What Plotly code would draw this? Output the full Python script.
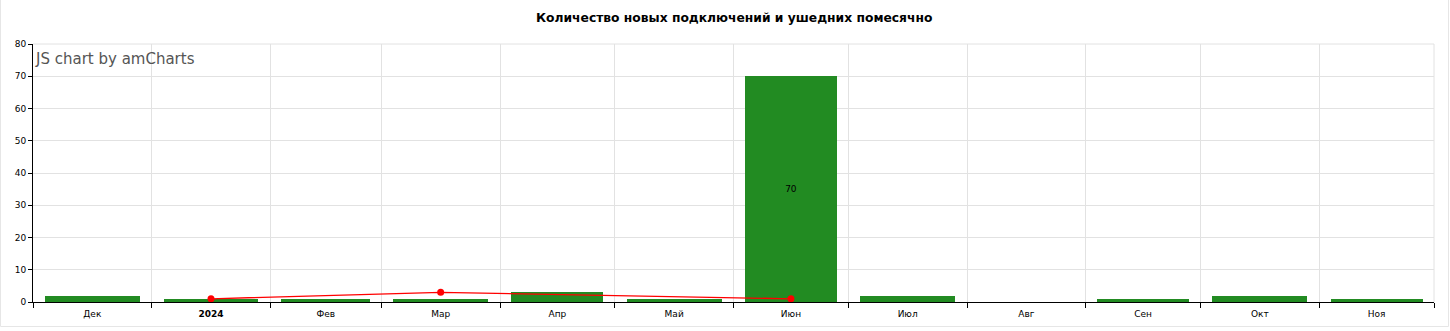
import pandas as pd
import plotly.graph_objects as go

# ---- data ----
months = ["2023-12", "2024-01", "2024-02", "2024-03", "2024-04", "2024-05",
          "2024-06", "2024-07", "2024-08", "2024-09", "2024-10", "2024-11"]
month_labels = ["Дек", "<b>2024</b>", "Фев", "Мар", "Апр", "Май",
                "Июн", "Июл", "Авг", "Сен", "Окт", "Ноя"]
new_connections = [2, 1, 1, 1, 3, 1, 70, 2, 0, 1, 2, 1]
churned = [None, 1, None, 3, None, None, 1, None, None, None, None, None]
title_text = "Количество новых подключений и ушедних помесячно"
y_ticks = [0, 10, 20, 30, 40, 50, 60, 70, 80]

# ---- derived positions from the month periods ----
starts = [pd.Timestamp(m + "-01") for m in months]
ends = [s + pd.offsets.MonthBegin(1) for s in starts]
centers = [s + (e - s) / 2 for s, e in zip(starts, ends)]
widths = [0.8 * (e - s).total_seconds() * 1000 for s, e in zip(starts, ends)]
boundaries = starts + [ends[-1]]
x_range = [starts[0], ends[-1]]

W, H = 1450, 331
ML, MR, MT, MB = 33, 16, 44, 29
PW, PH = W - ML - MR, H - MT - MB

def px_x(p):
    return (p - ML) / PW

def px_y(p):
    return (H - MB - p) / PH

FONT = "DejaVu Sans, Verdana, sans-serif"

fig = go.Figure()
fig.add_trace(go.Bar(
    x=centers, y=new_connections, width=widths,
    marker=dict(color="#228B22", line=dict(width=0)),
    text=[str(v) if v >= 10 else "" for v in new_connections],
    textposition="inside", insidetextanchor="middle", textangle=0,
    textfont=dict(size=9, color="#000000", family=FONT),
    name="Новые", showlegend=False, hoverinfo="x+y",
))
fig.add_trace(go.Scatter(
    x=centers, y=churned, mode="lines+markers", connectgaps=True,
    line=dict(color="#FF0000", width=1.3),
    marker=dict(color="#FF0000", size=7),
    name="Ушедшие", showlegend=False,
))
# invisible trace to carry the label axis
fig.add_trace(go.Scatter(x=centers, y=[None] * len(centers), xaxis="x2",
                         showlegend=False, hoverinfo="skip"))

fig.update_layout(
    width=W, height=H,
    margin=dict(l=ML, r=MR, t=MT, b=MB, pad=0),
    paper_bgcolor="#ffffff", plot_bgcolor="#ffffff",
    font=dict(family=FONT, size=9, color="#000000"),
    bargap=0,
    xaxis=dict(
        type="date", range=x_range, tickvals=boundaries, showticklabels=False,
        ticks="outside", ticklen=5, tickcolor="#000000",
        showgrid=True, gridcolor="#e2e2e2", gridwidth=1,
        showline=True, linecolor="#000000", linewidth=1,
        zeroline=False, fixedrange=True,
    ),
    xaxis2=dict(
        type="date", range=x_range, overlaying="x", anchor="y", side="bottom",
        tickvals=centers, ticktext=month_labels, ticks="", ticklen=0,
        ticklabelstandoff=5,
        showgrid=False, showline=False, zeroline=False,
        tickfont=dict(size=9, family=FONT, color="#000000"), fixedrange=True,
    ),
    yaxis=dict(
        range=[0, 80], tickvals=y_ticks, ticks="outside", ticklen=4,
        tickcolor="#000000", showline=True, linecolor="#000000", linewidth=1,
        showgrid=True, gridcolor="#e2e2e2", gridwidth=1, zeroline=False,
        tickfont=dict(size=9, family=FONT, color="#000000"), fixedrange=True,
    ),
    annotations=[
        dict(text="<b>" + title_text + "</b>", xref="paper", yref="paper",
             x=0.5, y=px_y(18), xanchor="center", yanchor="middle",
             showarrow=False, font=dict(size=12.3, family=FONT, color="#000000")),
        dict(text="JS chart by amCharts", xref="paper", yref="paper",
             x=px_x(33), y=px_y(59), xanchor="left", yanchor="middle",
             showarrow=False, font=dict(size=15, family=FONT, color="#555555")),
    ],
    shapes=[
        dict(type="line", xref="paper", yref="paper", x0=1, x1=1, y0=0, y1=1,
             line=dict(color="#e2e2e2", width=1)),
        dict(type="line", xref="paper", yref="paper", x0=0, x1=1, y0=1, y1=1,
             line=dict(color="#e2e2e2", width=1)),
        dict(type="rect", xref="paper", yref="paper",
             x0=px_x(0.5), x1=px_x(1448.5), y0=px_y(326.5), y1=px_y(-2),
             line=dict(color="#e6e6e6", width=1)),
    ],
)

fig.write_html("out.html")
